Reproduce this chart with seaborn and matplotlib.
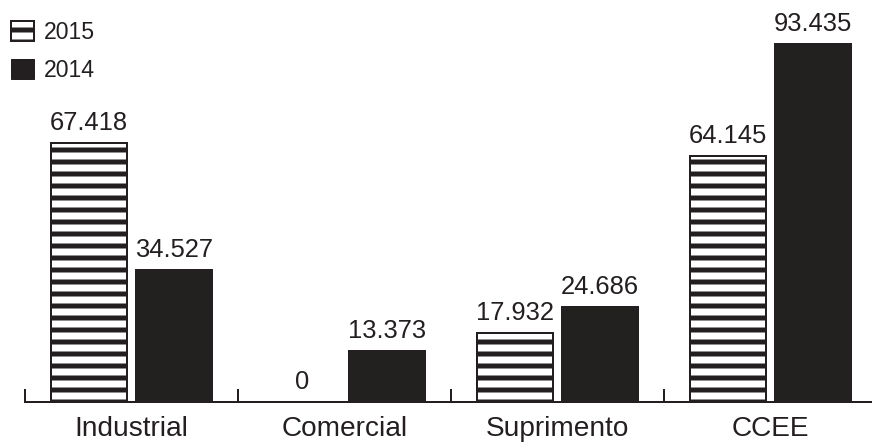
import matplotlib
matplotlib.use('Agg')
import matplotlib.pyplot as plt
import seaborn as sns
from matplotlib.patches import Patch
from pandas import DataFrame

# data
categories = ['Industrial', 'Comercial', 'Suprimento', 'CCEE']
values_2015 = [67.418, 0, 17.932, 64.145]
values_2014 = [34.527, 13.373, 24.686, 93.435]
years = ['2015', '2014']

INK = '#231f20'
DPI = 72

sns.set_theme(style='white')
plt.rcParams['font.family'] = ['Liberation Sans', 'DejaVu Sans']
plt.rcParams['hatch.linewidth'] = 5
plt.rcParams['hatch.color'] = INK

df = DataFrame({
    'categoria': categories * 2,
    'valor': values_2015 + values_2014,
    'ano': [years[0]] * len(categories) + [years[1]] * len(categories),
})

fig = plt.figure(figsize=(872 / DPI, 445 / DPI), dpi=DPI)
ax = fig.add_axes([25 / 872, 43 / 445, 847 / 872, 402 / 445])

sns.barplot(data=df, x='categoria', y='valor', hue='ano', hue_order=years,
            order=categories, palette={'2015': 'white', '2014': INK},
            edgecolor=INK, linewidth=2, gap=0.1, legend=False, ax=ax)

for bar in ax.containers[0]:
    bar.set_hatch('-')
    bar.set_edgecolor(INK)

for cont in ax.containers:
    ax.bar_label(cont, fmt=lambda v: f'{v:.3f}' if v else '0',
                 padding=8, fontsize=25.5, color=INK)

ax.set_xlim(-0.5, -0.5 + 847 / 213)
ax.set_ylim(0, 104.8)
ax.set_xlabel('')
ax.set_ylabel('')
ax.set_yticks([])
sns.despine(ax=ax, left=True)
ax.spines['bottom'].set_linewidth(2)
ax.spines['bottom'].set_color(INK)

ax.set_xticks([i - 0.5 for i in range(len(categories))], minor=True)
ax.tick_params(axis='x', which='minor', direction='in', length=13, width=2,
               color=INK, bottom=True)
ax.tick_params(axis='x', which='major', length=0, pad=14, labelsize=28,
               labelcolor=INK)

handles = [Patch(facecolor='white', edgecolor=INK, linewidth=2, hatch='-'),
           Patch(facecolor=INK, edgecolor=INK)]
fig.legend(handles, years, loc='upper left', bbox_to_anchor=(-10 / 872, 1.0),
           frameon=False, fontsize=23, handlelength=1.0, handleheight=1.0,
           handletextpad=0.45, labelspacing=0.65, borderaxespad=0.6,
           borderpad=0.3, labelcolor=INK)

fig.savefig('out.png', dpi=DPI)
